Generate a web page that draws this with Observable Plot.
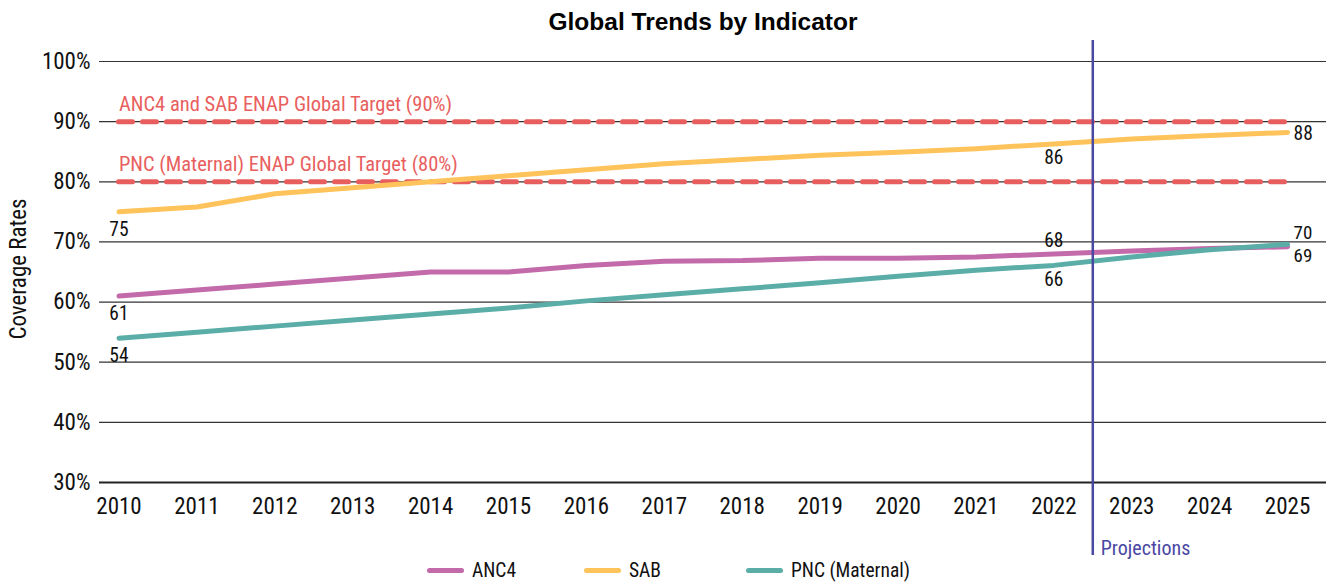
<!DOCTYPE html>
<html>
<head>
<meta charset="utf-8">
<script src="https://cdn.jsdelivr.net/npm/d3@7"></script>
<script src="https://cdn.jsdelivr.net/npm/@observablehq/plot@0.6"></script>
<style>
  body { margin: 0; background: #fff; overflow: hidden; }
  #title { width: 1326px; height: 40px; box-sizing: border-box; padding-left: 80px; text-align: center;
           font-family: "Liberation Sans", Arial, sans-serif; font-weight: bold; font-size: 24.5px; line-height: 44px; color: #000; }
  #chart { height: 518px; }
  #legend { position: relative; width: 1326px; height: 25px;
            font-family: "Roboto Condensed", "Liberation Sans Narrow", "Roboto", sans-serif; font-size: 19.5px; color: #111; }
  .item { position: absolute; top: 0; height: 25px; display: flex; align-items: center; }
  .sw { width: 37px; height: 5px; border-radius: 3px; margin-right: 8px; }
</style>
</head>
<body>
<div id="title">Global Trends by Indicator</div>
<div id="chart"></div>
<div id="legend"></div>
<script>
const years = [2010, 2011, 2012, 2013, 2014, 2015, 2016, 2017, 2018, 2019, 2020, 2021, 2022, 2023, 2024, 2025];
const anc4 = [61, 62, 63, 64, 65, 65, 66.1, 66.8, 66.9, 67.3, 67.3, 67.5, 68, 68.5, 68.9, 69.2];
const sab  = [75, 75.8, 78, 79, 80, 81, 82, 83, 83.7, 84.4, 84.9, 85.5, 86.3, 87.1, 87.7, 88.2];
const pnc  = [54, 55, 56, 57, 58, 59, 60.2, 61.2, 62.2, 63.2, 64.3, 65.3, 66.1, 67.5, 68.7, 69.6];
const seriesNames = ["ANC4", "SAB", "PNC (Maternal)"];
const seriesColors = ["#c36aab", "#fec35b", "#5aaea7"];
const yTicks = [30, 40, 50, 60, 70, 80, 90, 100];
const targets = [90, 80];
const targetLabels = ["ANC4 and SAB ENAP Global Target (90%)", "PNC (Maternal) ENAP Global Target (80%)"];
const projectionStart = 2022.5;
const projectionLabel = "Projections";
const yLabel = "Coverage Rates";

const seriesValues = [anc4, sab, pnc];
const rows = [];
seriesNames.forEach((s, i) => years.forEach((yr, j) => rows.push({series: s, year: yr, value: seriesValues[i][j]})));

const pick = (s, yr) => rows.find(r => r.series === s && r.year === yr);
const startLabels = seriesNames.map(s => pick(s, 2010));
const midBelow = [pick("SAB", 2022), pick("PNC (Maternal)", 2022)];
const midAbove = [pick("ANC4", 2022)];
const endSab = [pick("SAB", 2025)];
const endAbove = [pick("PNC (Maternal)", 2025)];
const endBelow = [pick("ANC4", 2025)];
const fmt = d => Math.round(d.value);

const font = '"Roboto Condensed", "Liberation Sans Narrow", "Roboto", sans-serif';

const plot = Plot.plot({
  width: 1326,
  height: 518,
  marginLeft: 99,
  marginRight: 0,
  marginTop: 21,
  marginBottom: 76,
  style: {fontFamily: font, fontSize: "22px", color: "#111", background: "transparent", overflow: "visible"},
  x: {domain: [2009.75, 2025.5], label: null},
  y: {domain: [30, 100], label: null},
  color: {domain: seriesNames, range: seriesColors},
  marks: [
    Plot.ruleY(yTicks.filter(t => t > 30), {stroke: "#333", strokeWidth: 1.2}),
    Plot.ruleY([30], {stroke: "#222", strokeWidth: 2.2}),
    Plot.ruleY(targets, {y: d => d, x1: years[0], x2: years[years.length - 1], stroke: "#e85d5d", strokeWidth: 5, strokeDasharray: "14,10", strokeLinecap: "round"}),
    Plot.text(targets, {x: years[0], y: d => d, text: (d, i) => targetLabels[i], textAnchor: "start", dy: -17, fill: "#e8605e", fontSize: 20.5}),
    Plot.line(rows, {x: "year", y: "value", z: "series", stroke: "series", strokeWidth: 5, strokeLinecap: "round"}),
    Plot.ruleX([projectionStart], {stroke: "#4a47a3", strokeWidth: 2.5, insetTop: -21, insetBottom: -73}),
    Plot.text([projectionStart], {x: d => d, frameAnchor: "bottom", text: () => projectionLabel, textAnchor: "start", dx: 8, dy: 72, fill: "#4a47a3", fontSize: 20}),
    Plot.text(startLabels, {x: "year", y: "value", text: fmt, dy: 18, fill: "#111", fontSize: 19.5}),
    Plot.text(midBelow, {x: "year", y: "value", text: fmt, dy: 14, fill: "#111", fontSize: 19.5}),
    Plot.text(midAbove, {x: "year", y: "value", text: fmt, dy: -13, fill: "#111", fontSize: 19.5}),
    Plot.text(endSab, {x: "year", y: "value", text: fmt, textAnchor: "start", dx: 6, dy: 1, fill: "#111", fontSize: 19.5}),
    Plot.text(endAbove, {x: "year", y: "value", text: fmt, textAnchor: "start", dx: 6, dy: -11, fill: "#111", fontSize: 19}),
    Plot.text(endBelow, {x: "year", y: "value", text: fmt, textAnchor: "start", dx: 6, dy: 9, fill: "#111", fontSize: 19}),
    Plot.text([yLabel], {frameAnchor: "left", text: d => d, rotate: -90, textAnchor: "middle", dx: -81, dy: -3, fill: "#111", fontSize: 23}),
    Plot.axisX({ticks: years, tickFormat: d => String(d), tickSize: 0, tickPadding: 15, fontSize: 23, label: null}),
    Plot.axisY({ticks: yTicks, tickFormat: d => d + "%", tickSize: 0, tickPadding: 9, fontSize: 23, label: null})
  ]
});
document.getElementById("chart").appendChild(plot);

const legendX = [427, 584, 746];
const legend = document.getElementById("legend");
seriesNames.forEach((s, i) => {
  const it = document.createElement("div");
  it.className = "item";
  it.style.left = legendX[i] + "px";
  it.innerHTML = `<span class="sw" style="background:${seriesColors[i]}"></span><span>${s}</span>`;
  legend.appendChild(it);
});
</script>
</body>
</html>
